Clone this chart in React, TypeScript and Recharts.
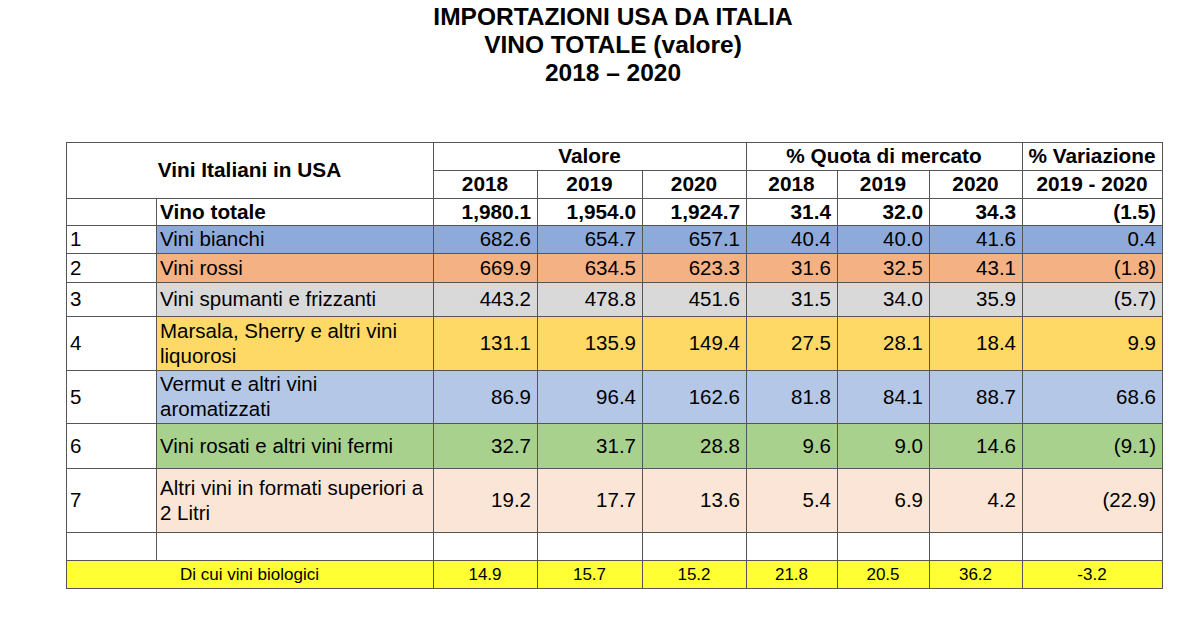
import { ScatterChart, Scatter, XAxis, YAxis } from 'recharts';

// table values (mln USD / %)
const categories = [
  'Vini bianchi',
  'Vini rossi',
  'Vini spumanti e frizzanti',
  'Marsala, Sherry e altri vini\nliquorosi',
  'Vermut e altri vini\naromatizzati',
  'Vini rosati e altri vini fermi',
  'Altri vini in formati superiori a\n2 Litri',
];
const valore2018 = [682.6, 669.9, 443.2, 131.1, 86.9, 32.7, 19.2];
const valore2019 = [654.7, 634.5, 478.8, 135.9, 96.4, 31.7, 17.7];
const valore2020 = [657.1, 623.3, 451.6, 149.4, 162.6, 28.8, 13.6];
const quota2018 = [40.4, 31.6, 31.5, 27.5, 81.8, 9.6, 5.4];
const quota2019 = [40.0, 32.5, 34.0, 28.1, 84.1, 9.0, 6.9];
const quota2020 = [41.6, 43.1, 35.9, 18.4, 88.7, 14.6, 4.2];
const variazione = [0.4, -1.8, -5.7, 9.9, 68.6, -9.1, -22.9];
const vinoTotale = [1980.1, 1954.0, 1924.7, 31.4, 32.0, 34.3, -1.5];
const biologici = [14.9, 15.7, 15.2, 21.8, 20.5, 36.2, -3.2];
const yearHeaders = ['2018', '2019', '2020', '2018', '2019', '2020', '2019 - 2020'];

// styling / layout
const rowColors = ['#8eaadb', '#f4b183', '#d9d9d9', '#ffd966', '#b4c7e7', '#a9d18e', '#fbe5d6'];
const yellow = '#ffff33';
const colEdges = [66, 156, 433, 537, 642, 746, 837, 929, 1022, 1162];
const rowEdges = [142, 170, 198, 225, 253, 282, 316, 370, 423, 468, 532, 560, 588];

const W = 1200;
const H = 642;
const FONT = '"Liberation Sans", Arial, sans-serif';

const fmt = (v: number) =>
  v.toLocaleString('en-US', { minimumFractionDigits: 1, maximumFractionDigits: 1 });
const fmtVar = (v: number) => (v < 0 ? `(${fmt(-v)})` : fmt(v));

type Cell = {
  x: number;
  y: number;
  w: number;
  h: number;
  text: string;
  align: 'left' | 'right' | 'center';
  bold?: boolean;
  size?: number;
  fill?: string;
};

function cell(c0: number, c1: number, r0: number, r1: number, text: string, opts: Partial<Cell> = {}): Cell {
  const left = colEdges[c0];
  const right = colEdges[c1];
  const top = rowEdges[r0];
  const bottom = rowEdges[r1];
  return {
    x: (left + right) / 2,
    y: (top + bottom) / 2,
    w: right - left,
    h: bottom - top,
    text,
    align: 'center',
    ...opts,
  };
}

const cells: Cell[] = [];
cells.push(cell(0, 2, 0, 2, 'Vini Italiani in USA', { bold: true }));
cells.push(cell(2, 5, 0, 1, 'Valore', { bold: true }));
cells.push(cell(5, 8, 0, 1, '% Quota di mercato', { bold: true }));
cells.push(cell(8, 9, 0, 1, '% Variazione', { bold: true }));
yearHeaders.forEach((y, i) => cells.push(cell(2 + i, 3 + i, 1, 2, y, { bold: true })));

cells.push(cell(0, 1, 2, 3, ''));
cells.push(cell(1, 2, 2, 3, 'Vino totale', { bold: true, align: 'left' }));
vinoTotale.forEach((v, i) =>
  cells.push(cell(2 + i, 3 + i, 2, 3, i === 6 ? fmtVar(v) : fmt(v), { bold: true, align: 'right' }))
);

categories.forEach((name, r) => {
  const row = 3 + r;
  const fill = rowColors[r];
  const vals = [valore2018[r], valore2019[r], valore2020[r], quota2018[r], quota2019[r], quota2020[r]];
  cells.push(cell(0, 1, row, row + 1, String(r + 1), { align: 'left' }));
  cells.push(cell(1, 2, row, row + 1, name, { align: 'left', fill }));
  vals.forEach((v, i) => cells.push(cell(2 + i, 3 + i, row, row + 1, fmt(v), { align: 'right', fill })));
  cells.push(cell(8, 9, row, row + 1, fmtVar(variazione[r]), { align: 'right', fill }));
});

for (let c = 0; c < 9; c++) cells.push(cell(c, c + 1, 10, 11, ''));

cells.push(cell(0, 2, 11, 12, 'Di cui vini biologici', { size: 17, fill: yellow }));
biologici.forEach((v, i) =>
  cells.push(cell(2 + i, 3 + i, 11, 12, fmt(v), { size: 17, fill: yellow }))
);

function CellFill(props: any) {
  const { cx, cy, payload } = props;
  if (!payload.fill) return <g />;
  return (
    <rect x={cx - payload.w / 2} y={cy - payload.h / 2} width={payload.w} height={payload.h} fill={payload.fill} />
  );
}

function CellBody(props: any) {
  const { cx, cy, payload } = props;
  const left = Math.round(cx - payload.w / 2);
  const top = Math.round(cy - payload.h / 2);
  const lines: string[] = payload.text ? payload.text.split('\n') : [];
  const size = payload.size ?? (payload.bold ? 20.8 : 20.5);
  const lh = 25;
  let tx = cx;
  let anchor = 'middle';
  if (payload.align === 'left') {
    tx = left + 4;
    anchor = 'start';
  } else if (payload.align === 'right') {
    tx = left + payload.w - 6;
    anchor = 'end';
  }
  const y0 = cy - ((lines.length - 1) * lh) / 2;
  return (
    <g>
      <rect
        x={left + 0.5}
        y={top + 0.5}
        width={payload.w}
        height={payload.h}
        fill="none"
        stroke="#555"
        strokeWidth={1}
      />
      {lines.map((t, i) => (
        <text
          key={i}
          x={tx}
          y={y0 + i * lh}
          dy="0.36em"
          textAnchor={anchor}
          fontFamily={FONT}
          fontSize={size}
          fontWeight={payload.bold ? 'bold' : 'normal'}
          fill="#000"
        >
          {t}
        </text>
      ))}
    </g>
  );
}

export default function App() {
  return (
    <div style={{ position: 'absolute', left: 0, top: 0, width: W, height: H, background: '#fff' }}>
      <div
        style={{
          position: 'absolute',
          left: 0,
          top: 3,
          width: 1226,
          textAlign: 'center',
          fontFamily: FONT,
          fontWeight: 'bold',
          fontSize: 24.5,
          lineHeight: '28px',
          color: '#000',
        }}
      >
        <div>IMPORTAZIONI USA DA ITALIA</div>
        <div>VINO TOTALE (valore)</div>
        <div>2018 – 2020</div>
      </div>
      <ScatterChart width={W} height={H} margin={{ top: 0, right: 0, bottom: 0, left: 0 }}>
        <XAxis type="number" dataKey="x" domain={[0, W]} hide allowDataOverflow />
        <YAxis type="number" dataKey="y" domain={[0, H]} reversed hide allowDataOverflow />
        <Scatter data={cells} shape={CellFill} isAnimationActive={false} />
        <Scatter data={cells} shape={CellBody} isAnimationActive={false} />
      </ScatterChart>
    </div>
  );
}
